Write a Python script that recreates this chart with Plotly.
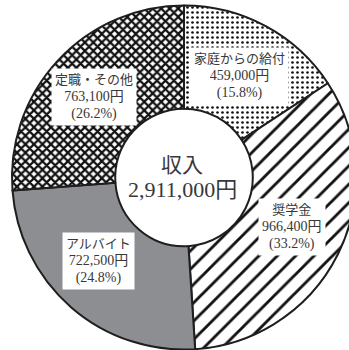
import plotly.graph_objects as go

# Income breakdown (yen), clockwise from 12 o'clock
categories = ["家庭からの給付", "奨学金", "アルバイト", "定職・その他"]
amounts = [459000, 966400, 722500, 763100]
center_title = "収入"

total = sum(amounts)
shares = [a / total * 100 for a in amounts]

W, H = 358, 350
FONT = "Liberation Serif, DejaVu Serif, Noto Sans CJK JP"
TEXT = "#383838"
GRAY = "#8d8e92"

fig = go.Figure(
    go.Pie(
        labels=categories,
        values=amounts,
        sort=False,
        direction="clockwise",
        rotation=0,
        hole=0.40,
        textinfo="none",
        hoverinfo="label+value+percent",
        showlegend=False,
        domain=dict(x=[12 / W, 356 / W], y=[0.5 / H, 344.5 / H]),
        marker=dict(
            colors=["white", "white", GRAY, "white"],
            line=dict(color="#1e1e1e", width=2),
            pattern=dict(
                shape=[".", "/", "", "x"],
                fgcolor=["#111", "#111", GRAY, "#111"],
                bgcolor=["white", "white", GRAY, "white"],
                size=[5, 13, 8, 6],
                solidity=[0.22, 0.22, 0.3, 0.6],
                fillmode="replace",
            ),
        ),
    )
)


def px(x, y):
    return x / W, 1 - y / H


# label anchor points (pixel positions of the label centres)
label_pos = [(239, 76), (292, 227), (98, 261), (94, 97)]

annotations = []
for name, amt, pct, (lx, ly) in zip(categories, amounts, shares, label_pos):
    ax, ay = px(lx, ly)
    annotations.append(
        dict(
            x=ax, y=ay, xref="paper", yref="paper",
            xanchor="center", yanchor="middle",
            text=(
                f"{name}<br><span style='font-size:14px'>{amt:,}円</span>"
                f"<br><span style='font-size:14px'>({pct:.1f}%)</span>"
            ),
            showarrow=False,
            font=dict(family=FONT, size=13, color=TEXT),
            bgcolor="white",
            borderpad=3,
            align="center",
        )
    )

# centre caption: title and total
for txt, y, size in [(center_title, 165, 21), (f"{total:,}円", 189, 22)]:
    cx, cy = px(182, y)
    annotations.append(
        dict(
            x=cx, y=cy, xref="paper", yref="paper",
            xanchor="center", yanchor="middle",
            text=txt,
            showarrow=False,
            font=dict(family=FONT, size=size, color=TEXT),
        )
    )

fig.update_layout(
    width=W,
    height=H,
    margin=dict(l=0, r=0, t=0, b=0),
    paper_bgcolor="white",
    plot_bgcolor="white",
    annotations=annotations,
)

fig.write_html(
    "out.html",
    post_script=(
        "document.body.style.margin='0';"
        "document.body.style.overflow='hidden';"
        "document.documentElement.style.overflow='hidden';"
    ),
)
